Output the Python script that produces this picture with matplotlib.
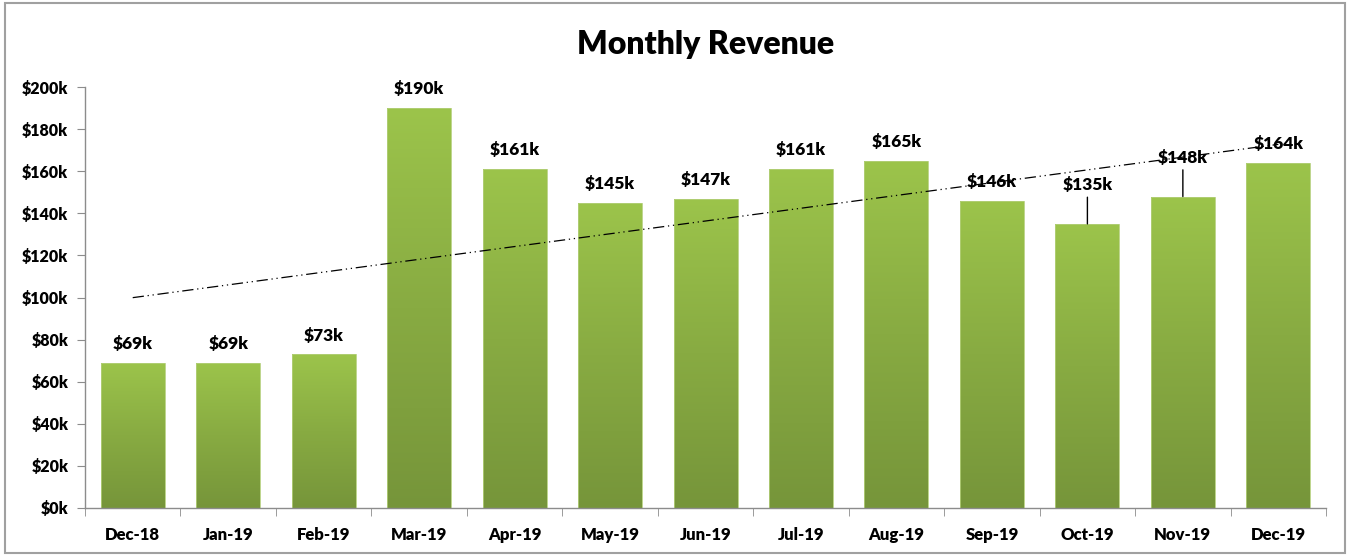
import numpy as np
import matplotlib
matplotlib.use("Agg")
import matplotlib.pyplot as plt
from matplotlib.colors import LinearSegmentedColormap
from matplotlib.patches import Rectangle

plt.rcParams['font.family'] = ['Lato', 'DejaVu Sans']
W = 'heavy'

# data (thousands of dollars)
months = ['Dec-18', 'Jan-19', 'Feb-19', 'Mar-19', 'Apr-19', 'May-19', 'Jun-19',
          'Jul-19', 'Aug-19', 'Sep-19', 'Oct-19', 'Nov-19', 'Dec-19']
revenue = [69, 69, 73, 190, 161, 145, 147, 161, 165, 146, 135, 148, 164]
# labels lifted above the trend line with a leader line
leader_months = ['Oct-19', 'Nov-19']

fig = plt.figure(figsize=(13.49, 5.55), dpi=100)
ax = fig.add_axes([0.063, 0.0847, 0.920, 0.7583])

x = np.arange(len(months))
bars = ax.bar(x, revenue, width=0.67, color='none', edgecolor='#b3cf7a',
              linewidth=0.6, zorder=2)

# vertical gradient fill, light green on top, darker at the bottom
cmap = LinearSegmentedColormap.from_list('grn', ['#76953a', '#88ab42', '#9cc44b'])
grad = np.linspace(0, 1, 256).reshape(-1, 1)
for b in bars:
    x0, w, h = b.get_x(), b.get_width(), b.get_height()
    im = ax.imshow(grad, cmap=cmap, origin='lower', aspect='auto',
                   extent=[x0, x0 + w, 0, h], zorder=1.5)
    im.set_clip_path(b)

# linear trend line
k, c = np.polyfit(x, revenue, 1)
ax.plot(x, k * x + c, color='black', linewidth=0.9,
        dashes=(9, 3, 1, 3, 1, 3), zorder=3)

for i, (m, v) in enumerate(zip(months, revenue)):
    if m in leader_months:
        ax.annotate(f'${v}k', xy=(i, v), xytext=(0, 28), textcoords='offset points',
                    ha='center', va='center', fontsize=12.5, fontweight=W,
                    arrowprops=dict(arrowstyle='-', color='black', lw=1,
                                    shrinkA=1, shrinkB=0), zorder=4)
    else:
        ax.annotate(f'${v}k', xy=(i, v), xytext=(0, 13.5), textcoords='offset points',
                    ha='center', va='center', fontsize=12.5, fontweight=W, zorder=4)

ax.set_xlim(-0.5, len(months) - 0.5)
ax.set_ylim(0, 200)
ax.set_yticks(np.arange(0, 201, 20))
ax.set_yticklabels([f'${t}k' for t in range(0, 201, 20)], fontweight=W)
ax.set_xticks(x)
ax.set_xticklabels(months, fontweight=W)
ax.set_xticks(np.arange(-0.5, len(months), 1), minor=True)
ax.tick_params(axis='x', which='major', length=0, pad=14, labelsize=12)
ax.tick_params(axis='x', which='minor', length=6, color='#8c8c8c', direction='out')
ax.tick_params(axis='y', length=6, color='#8c8c8c', pad=6, labelsize=11.5)

for s in ['top', 'right']:
    ax.spines[s].set_visible(False)
for s in ['left', 'bottom']:
    ax.spines[s].set_color('#8c8c8c')
    ax.spines[s].set_linewidth(1)

ax.set_title('Monthly Revenue', fontsize=23, fontweight=W, pad=24)

# chart border
fig.patches.append(Rectangle((0.004, 0.004), 0.993, 0.99, transform=fig.transFigure,
                             fill=False, edgecolor='#a0a0a0', linewidth=1.5))

fig.savefig('out.png', dpi=100)
